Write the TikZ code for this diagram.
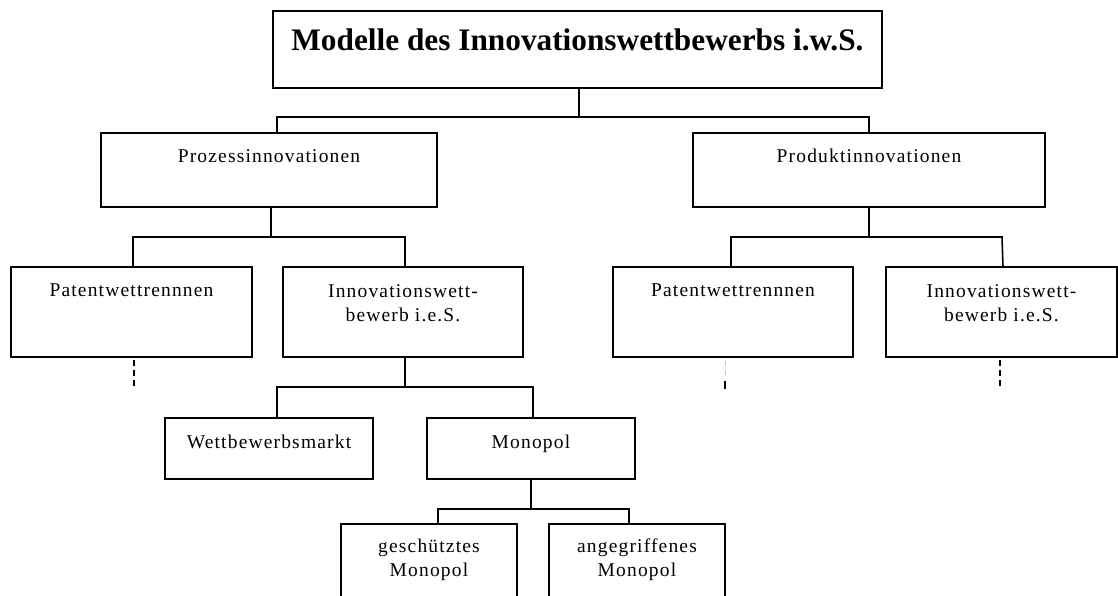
\documentclass[tikz,border=0pt]{standalone}
\usepackage{fontspec}
\setmainfont{Liberation Serif}
\newfontfamily\lsp[LetterSpace=6]{Liberation Serif}
\usetikzlibrary{calc}
\newcommand\mkbox[5]{\node[box,minimum width={(#4-#2)*1pt},minimum height={(#5-#3)*1pt}] (#1) at ({(#2+#4)/2},{(#3+#5)/2}) {};}
\begin{document}
\begin{tikzpicture}[x=1pt,y=-1pt,
  box/.style={draw,line width=1.6pt,inner sep=0pt,outer sep=0pt},
  lbl/.style={font=\lsp\fontsize{19.5}{23.5}\selectfont,inner sep=0pt,align=center},
  ttl/.style={font=\bfseries\fontsize{31.3}{36}\selectfont,inner sep=0pt},
  wire/.style={line width=1.6pt},
  dwire/.style={line width=1.6pt,dash pattern=on 6pt off 4pt}]
\clip (0,0) rectangle (1118,595);
\fill[white] (0,0) rectangle (1118,595);
% boxes
\mkbox{top}{273}{11}{882}{88}
\mkbox{pi}{101}{133}{437}{207}
\mkbox{pd}{693}{133}{1045}{207}
\mkbox{pat1}{11}{267}{252}{357}
\mkbox{inn1}{283}{267}{523}{357}
\mkbox{pat2}{613}{267}{853}{357}
\mkbox{inn2}{886}{267}{1117}{357}
\mkbox{wm}{165}{418}{373}{479}
\mkbox{mo}{427}{418}{635}{479}
\mkbox{gm}{341}{524}{517}{625}
\mkbox{am}{549}{524}{725}{625}
% texts
\node[ttl,anchor=base] (topt) at ($(top.north)+(0,39)$) {Modelle des Innovationswettbewerbs i.w.S.};
\node[lbl,anchor=base] (pit) at ($(pi.north)+(0,29)$) {Prozessinnovationen};
\node[lbl,anchor=base] (pdt) at ($(pd.north)+(0,29)$) {Produktinnovationen};
\node[lbl,anchor=base] (pat1t) at ($(pat1.north)+(0,29)$) {Patentwettrennnen};
\node[lbl,anchor=base] (pat2t) at ($(pat2.north)+(0,29)$) {Patentwettrennnen};
\node[lbl,anchor=base] (inn1t) at ($(inn1.north)+(0,30)$) {Innovationswett-};
\node[lbl,anchor=base] (inn1u) at ($(inn1.north)+(0,54)$) {bewerb i.e.S.};
\node[lbl,anchor=base] (inn2t) at ($(inn2.north)+(0,30)$) {Innovationswett-};
\node[lbl,anchor=base] (inn2u) at ($(inn2.north)+(0,54)$) {bewerb i.e.S.};
\node[lbl,anchor=base] (wmt) at ($(wm.north)+(0,30)$) {Wettbewerbsmarkt};
\node[lbl,anchor=base] (mot) at ($(mo.north)+(0,30)$) {Monopol};
\node[lbl,anchor=base] (gmt) at ($(gm.north)+(0,28)$) {geschütztes};
\node[lbl,anchor=base] (gmu) at ($(gm.north)+(0,52)$) {Monopol};
\node[lbl,anchor=base] (amt) at ($(am.north)+(0,28)$) {angegriffenes};
\node[lbl,anchor=base] (amu) at ($(am.north)+(0,52)$) {Monopol};
% junctions
\coordinate (j0) at (579,117);
\coordinate (a1) at (277,117);
\coordinate (a2) at (869,117);
\coordinate (j1) at (271,237);
\coordinate (b1) at (133,237);
\coordinate (b2) at (405,237);
\coordinate (j2) at (869,237);
\coordinate (c1) at (731,237);
\coordinate (c2) at (1002,237);
\coordinate (c2e) at (1003,267);
\coordinate (j3) at (405,387);
\coordinate (e1) at (277,387);
\coordinate (e2) at (533,387);
\coordinate (j4) at (531,509);
\coordinate (f1) at (438,509);
\coordinate (f2) at (629,509);
% connectors
\draw[wire] (top.south -| j0) -- (j0);
\draw[wire] (pi.north -| a1) -- (a1) -- (a2) -- (pd.north -| a2);
\draw[wire] (pi.south -| j1) -- (j1);
\draw[wire] (pat1.north -| b1) -- (b1) -- (b2) -- (inn1.north -| b2);
\draw[wire] (pd.south -| j2) -- (j2);
\draw[wire] (pat2.north -| c1) -- (c1) -- (c2) -- (c2e);
\draw[wire] (inn1.south -| j3) -- (j3);
\draw[wire] (wm.north -| e1) -- (e1) -- (e2) -- (mo.north -| e2);
\draw[wire] (mo.south -| j4) -- (j4);
\draw[wire] (gm.north -| f1) -- (f1) -- (f2) -- (am.north -| f2);
% dashed stubs
\coordinate (d1a) at (134,360); \coordinate (d1b) at (134,389);
\coordinate (d2a) at (725,360); \coordinate (d2m) at (725,377);
\coordinate (d2n) at (725,381); \coordinate (d2b) at (725,389);
\coordinate (d3a) at (1000,360); \coordinate (d3b) at (1000,389);
\draw[dwire] (d1a) -- (d1b);
\draw[dwire,gray!40,line width=1pt] (d2a) -- (d2m);
\draw[wire,line width=1.2pt] (d2n) -- (d2b);
\draw[dwire] (d3a) -- (d3b);
\end{tikzpicture}
\end{document}
